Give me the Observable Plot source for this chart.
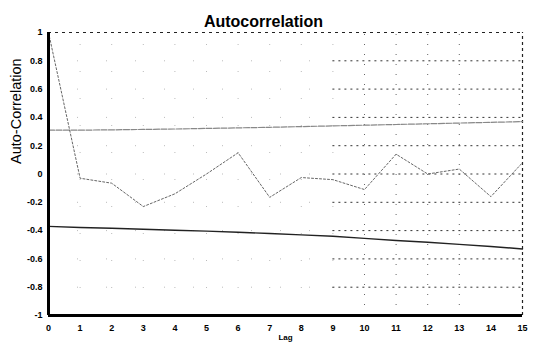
<!DOCTYPE html>
<html>
<head>
<meta charset="utf-8">
<script src="https://cdn.jsdelivr.net/npm/d3@7"></script>
<script src="https://cdn.jsdelivr.net/npm/@observablehq/plot@0.6"></script>
<style>
  html, body { margin: 0; padding: 0; background: #fff; }
  svg { display: block; }
</style>
</head>
<body>
<div id="chart"></div>
<script>
const lags = [0, 1, 2, 3, 4, 5, 6, 7, 8, 9, 10, 11, 12, 13, 14, 15];
const acf = [1, -0.03, -0.065, -0.23, -0.14, 0.0, 0.15, -0.165, -0.025, -0.04, -0.11, 0.14, 0.0, 0.035, -0.16, 0.08];
const upperBand = [0.31, 0.31, 0.312, 0.315, 0.318, 0.322, 0.326, 0.33, 0.335, 0.34, 0.345, 0.35, 0.355, 0.36, 0.365, 0.37];
const lowerBand = [-0.37, -0.378, -0.383, -0.39, -0.397, -0.404, -0.412, -0.42, -0.43, -0.44, -0.455, -0.47, -0.482, -0.497, -0.512, -0.53];
const yTicks = [-1, -0.8, -0.6, -0.4, -0.2, 0, 0.2, 0.4, 0.6, 0.8, 1];
const yTickLabels = ["-1", "-0.8", "-0.6", "-0.4", "-0.2", "0", "0.2", "0.4", "0.6", "0.8", "1"];
const gridY = [-0.8, -0.6, -0.4, -0.2, 0, 0.2, 0.4, 0.6, 0.8];
const gridXRight = [10, 11, 12, 13];
const gridXLeft = [1, 2, 3, 4, 5, 6, 7, 8, 9];
const titleText = "Autocorrelation";
const yLabel = "Auto-Correlation";
const xLabel = "Lag";

const rows = lags.map((lag, i) => ({lag, acf: acf[i], up: upperBand[i], lo: lowerBand[i]}));
const gridRight = gridY.map(y => ({x1: 9, x2: 15, y}));
const gridLeft = gridY.map(y => ({x1: 0, x2: 9, y}));

const chart = Plot.plot({
  width: 536,
  height: 343,
  marginLeft: 48,
  marginRight: 14,
  marginTop: 32,
  marginBottom: 28,
  style: {fontFamily: "Liberation Sans, Arial, sans-serif", background: "#fff"},
  x: {domain: [0, 15], ticks: lags, axis: null},
  y: {domain: [-1, 1], axis: null},
  marks: [
    Plot.ruleY(gridLeft, {y: "y", x1: "x1", x2: "x2", stroke: "#bbb", strokeWidth: 1, strokeDasharray: "1,28"}),
    Plot.ruleX(gridXLeft, {x: d => d, y1: -1, y2: 1, stroke: "#bbb", strokeWidth: 1, strokeDasharray: "1,26"}),
    Plot.ruleY(gridRight, {y: "y", x1: "x1", x2: "x2", stroke: "#333", strokeWidth: 1, strokeDasharray: "2,4"}),
    Plot.ruleX(gridXRight, {x: d => d, y1: -1, y2: 1, stroke: "#666", strokeWidth: 1, strokeDasharray: "1,9"}),
    Plot.ruleY([1], {x1: 0, x2: 15, stroke: "#222", strokeWidth: 1.2, strokeDasharray: "3,4"}),
    Plot.ruleX([15], {y1: -1, y2: 1, stroke: "#222", strokeWidth: 1.2, strokeDasharray: "3,3"}),
    Plot.line(rows, {x: "lag", y: "up", stroke: "#888", strokeWidth: 1.2, strokeDasharray: "6,1.5"}),
    Plot.line(rows, {x: "lag", y: "lo", stroke: "#222", strokeWidth: 1.4}),
    Plot.line(rows, {x: "lag", y: "acf", stroke: "#666", strokeWidth: 1, strokeDasharray: "2,2"}),
    Plot.ruleX([0], {y1: -1, y2: 1, stroke: "#000", strokeWidth: 3}),
    Plot.ruleY([-1], {x1: 0, x2: 15, stroke: "#000", strokeWidth: 3}),
    Plot.text(yTicks, {x: 0, y: d => d, text: (d, i) => yTickLabels[i], textAnchor: "end", dx: -6, fontSize: 9, fontWeight: "bold", fill: "#000"}),
    Plot.text(lags, {x: d => d, y: -1, text: d => String(d), dy: 13, fontSize: 9, fontWeight: "bold", fill: "#000"}),
    Plot.text([titleText], {frameAnchor: "top", text: d => d, dx: -22, dy: -17, fontSize: 16, fontWeight: "bold", fill: "#000"}),
    Plot.text([yLabel], {frameAnchor: "left", text: d => d, dx: -32, dy: -10, rotate: -90, fontSize: 14.5, fill: "#000"}),
    Plot.text([xLabel], {frameAnchor: "bottom", text: d => d, dy: 24, fontSize: 8, fontWeight: "bold", fill: "#000"})
  ]
});
document.getElementById("chart").appendChild(chart);
</script>
</body>
</html>
